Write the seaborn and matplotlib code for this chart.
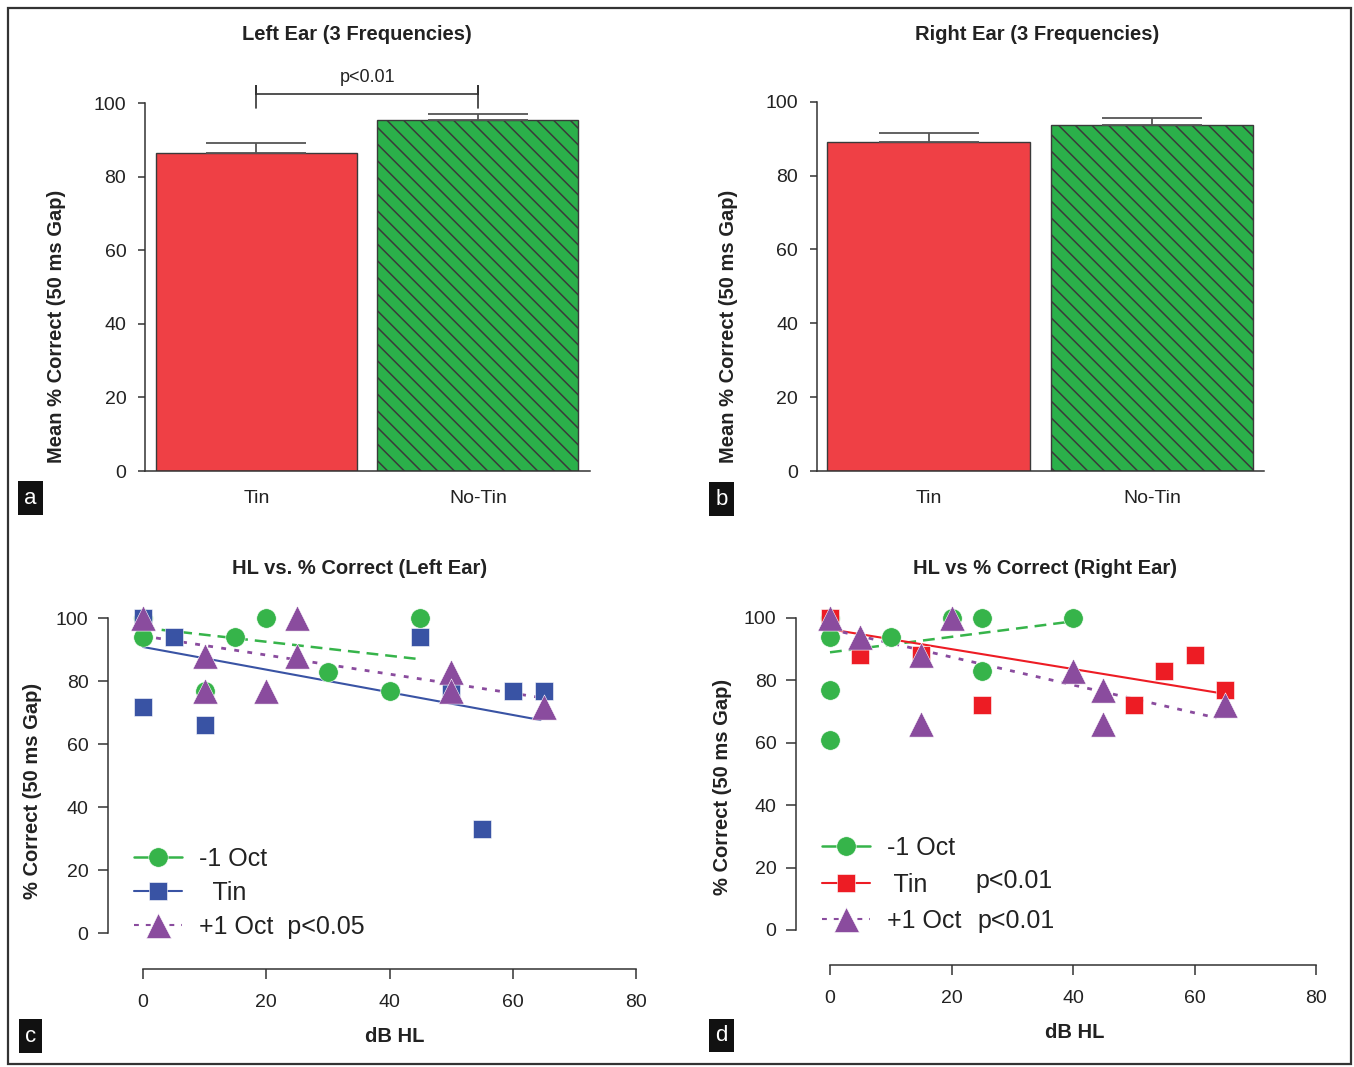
import matplotlib
matplotlib.use("Agg")
import matplotlib.pyplot as plt
import seaborn as sns
import pandas as pd
from matplotlib.lines import Line2D
from matplotlib.patches import Rectangle

sns.set_style("ticks")
plt.rcParams['font.family'] = ['Liberation Sans', 'DejaVu Sans']
plt.rcParams['hatch.linewidth'] = 1.1
plt.rcParams['lines.scale_dashes'] = False

# ---------------- data ----------------
bar_cats = ["Tin", "No-Tin"]
left_means = [86.6, 95.5]
left_err = [2.7, 1.6]
right_means = [89.2, 93.8]
right_err = [2.2, 1.8]
left_sig_text = "p<0.01"
left_sig_y = 102.6

c_green_x = [0, 0, 10, 15, 20, 30, 40, 45]
c_green_y = [100, 94, 77, 94, 100, 83, 77, 100]
c_blue_x = [0, 0, 5, 10, 45, 50, 55, 60, 65]
c_blue_y = [100, 72, 94, 66, 94, 77, 33, 77, 77]
c_purple_x = [0, 10, 10, 20, 25, 25, 50, 50, 65]
c_purple_y = [100, 88, 77, 77, 100, 88, 83, 77, 72]
c_fit_green = ([0, 45], [97, 87])
c_fit_blue = ([0, 64.5], [90.9, 67.7])
c_fit_purple = ([0, 64], [94.4, 75])

d_green_x = [0, 0, 0, 0, 10, 20, 25, 25, 40]
d_green_y = [100, 94, 77, 61, 94, 100, 100, 83, 100]
d_red_x = [0, 5, 15, 25, 50, 55, 60, 65]
d_red_y = [100, 88, 88, 72, 72, 83, 88, 77]
d_purple_x = [0, 5, 15, 15, 20, 40, 45, 45, 65]
d_purple_y = [100, 94, 88, 66, 100, 83, 77, 66, 72]
d_fit_green = ([0, 39.5], [89, 98.8])
d_fit_red = ([0, 64], [96.4, 76])
d_fit_purple = ([0, 63.6], [96.4, 68])

yticks = [0, 20, 40, 60, 80, 100]
xticks = [0, 20, 40, 60, 80]

# ---------------- styling ----------------
RED_BAR = "#EF4045"
GREEN_BAR = "#2BB04A"
GREEN = "#36B44A"
BLUE = "#3953A4"
PURPLE = "#8A4C9E"
RED = "#ED1C24"
SPINE = "#333333"
W, H = 1354, 1067

fig = plt.figure(figsize=(W / 100, H / 100), dpi=100)


def fx(px):
    return px / W


def fy(py):
    return 1 - py / H


def add_axes(l, r, t, b):
    return fig.add_axes([fx(l), fy(b), fx(r) - fx(l), fy(t) - fy(b)])


def style_spines(ax):
    for s in ['top', 'right']:
        ax.spines[s].set_visible(False)
    for s in ['left', 'bottom']:
        ax.spines[s].set_color(SPINE)
        ax.spines[s].set_linewidth(1.1)


def bar_panel(ax, means, errs, xl, xr, width):
    df = pd.DataFrame({"cat": bar_cats, "val": means})
    sns.barplot(data=df, x="cat", y="val", hue="cat", order=bar_cats,
                palette=[RED_BAR, GREEN_BAR], width=width, errorbar=None,
                saturation=1, edgecolor="#3a3a3a", linewidth=1.0,
                legend=False, ax=ax)
    ax.patches[1].set_hatch('\\\\')
    ax.errorbar([0, 1], means, yerr=[[0, 0], errs], fmt='none',
                ecolor="#555555", elinewidth=1.3, capsize=36, capthick=1.3,
                zorder=1)
    ax.set_xlim(xl, xr)
    ax.set_ylim(0, 100)
    ax.set_yticks(yticks)
    ax.set_xlabel("")
    ax.set_ylabel("")
    style_spines(ax)
    ax.tick_params(axis='y', left=True, length=5, width=1.1, color=SPINE,
                   pad=8.5, labelsize=14, labelcolor="#222222")
    ax.tick_params(axis='x', bottom=True, length=0, pad=14, labelsize=14,
                   labelcolor="#222222")
    ax.set_facecolor("none")


# panel a
axa = add_axes(145, 590, 103.3, 471)
bar_panel(axa, left_means, left_err, -0.503, 1.506, 0.907)
axa.plot([0, 0, 0, 1, 1, 1],
         [left_sig_y - 4, left_sig_y + 2, left_sig_y, left_sig_y,
          left_sig_y + 2, left_sig_y - 4],
         color="#333333", lw=1.2, clip_on=False)
axa.text(0.5, left_sig_y + 4.4, left_sig_text, ha='center', va='center',
         fontsize=13, color="#222222", clip_on=False)

# panel b
axb = add_axes(816.7, 1264, 101.7, 471)
bar_panel(axb, right_means, right_err, -0.5, 1.5, 0.906)


def scatter_panel(ax, series, fits, l, r, t, b, x0px, x80px, y100px, y0px):
    pxu = (x80px - x0px) / 80.0
    pyu = (y0px - y100px) / 100.0
    ax.set_xlim((l - x0px) / pxu, (r - x0px) / pxu)
    ax.set_ylim((y0px - b) / pyu, (y0px - t) / pyu)
    for (fxs, fys), color, ls, lw in fits:
        ax.plot(fxs, fys, color=color, linestyle=ls, lw=lw, zorder=2)
    for xs, ys, color, marker, s in series:
        sns.scatterplot(x=xs, y=ys, color=color, marker=marker, s=s,
                        edgecolor="white", linewidth=0.4, ax=ax, zorder=3,
                        clip_on=False, legend=False)
    style_spines(ax)
    ax.spines['left'].set_bounds(0, 100)
    ax.spines['bottom'].set_bounds(0, 80)
    ax.set_xticks(xticks)
    ax.set_yticks(yticks)
    ax.tick_params(axis='y', left=True, length=7, width=1.1, color=SPINE,
                   pad=7, labelsize=14, labelcolor="#222222")
    ax.tick_params(axis='x', bottom=True, length=7, width=1.1, color=SPINE,
                   pad=11, labelsize=14, labelcolor="#222222")
    ax.set_xlabel("")
    ax.set_ylabel("")
    ax.set_facecolor("none")


GREEN_DASH = (0, (8.5, 5))
PURPLE_DOT = (0, (3.5, 6))

axc = add_axes(108, 640, 612, 969)
scatter_panel(axc,
              [(c_green_x, c_green_y, GREEN, 'o', 196),
               (c_blue_x, c_blue_y, BLUE, 's', 175),
               (c_purple_x, c_purple_y, PURPLE, '^', 330)],
              [(c_fit_green, GREEN, GREEN_DASH, 1.8),
               (c_fit_blue, BLUE, '-', 1.5),
               (c_fit_purple, PURPLE, PURPLE_DOT, 2.0)],
              108, 640, 612, 969, 143, 636, 618.3, 933.3)

axd = add_axes(796, 1320, 612, 965)
scatter_panel(axd,
              [(d_green_x, d_green_y, GREEN, 'o', 196),
               (d_red_x, d_red_y, RED, 's', 175),
               (d_purple_x, d_purple_y, PURPLE, '^', 330)],
              [(d_fit_green, GREEN, GREEN_DASH, 1.8),
               (d_fit_red, RED, '-', 1.5),
               (d_fit_purple, PURPLE, PURPLE_DOT, 2.0)],
              796, 1320, 612, 965, 830, 1316, 618, 930)


def make_handles(c2):
    return [Line2D([0], [0], color=GREEN, lw=1.8, marker='o', ms=14,
                   markeredgecolor='white', markeredgewidth=0.4),
            Line2D([0], [0], color=c2, lw=1.5, marker='s', ms=13,
                   markeredgecolor='white', markeredgewidth=0.4),
            Line2D([0], [0], color=PURPLE, lw=1.5, ls=(0, (3.5, 5)),
                   marker='^', ms=18, markeredgecolor='white',
                   markeredgewidth=0.4)]


legc = axc.legend(make_handles(BLUE), ["-1 Oct", "  Tin", "+1 Oct  p<0.05"],
                  loc='upper left', bbox_to_anchor=(fx(134), fy(847)),
                  bbox_transform=fig.transFigure, frameon=False,
                  fontsize=18, handlelength=1.9, handletextpad=0.7,
                  labelspacing=0.4, borderpad=0, borderaxespad=0)
legd = axd.legend(make_handles(RED), ["-1 Oct", " Tin", "+1 Oct"],
                  loc='upper left', bbox_to_anchor=(fx(822), fy(836)),
                  bbox_transform=fig.transFigure, frameon=False,
                  fontsize=18, handlelength=1.9, handletextpad=0.7,
                  labelspacing=0.5, borderpad=0, borderaxespad=0)
for lg in (legc, legd):
    for t in lg.get_texts():
        t.set_color("#222222")
fig.text(fx(975), fy(881), "p<0.01", fontsize=18, color="#222222",
         ha='left', va='center')
fig.text(fx(977), fy(921), "p<0.01", fontsize=18, color="#222222",
         ha='left', va='center')

# titles and axis labels
TKW = dict(fontsize=14.5, fontweight='bold', color="#222222",
           ha='center', va='center')
fig.text(fx(357), fy(35), "Left Ear (3 Frequencies)", **TKW)
fig.text(fx(1037), fy(35), "Right Ear (3 Frequencies)", **TKW)
fig.text(fx(360), fy(569), "HL vs. % Correct (Left Ear)", **TKW)
fig.text(fx(1045), fy(569), "HL vs % Correct (Right Ear)", **TKW)
fig.text(fx(57), fy(326), "Mean % Correct (50 ms Gap)", rotation=90, **TKW)
fig.text(fx(728), fy(326), "Mean % Correct (50 ms Gap)", rotation=90, **TKW)
fig.text(fx(33), fy(791), "% Correct (50 ms Gap)", rotation=90, **TKW)
fig.text(fx(722), fy(787), "% Correct (50 ms Gap)", rotation=90, **TKW)
fig.text(fx(395), fy(1037), "dB HL", **TKW)
fig.text(fx(1075), fy(1032), "dB HL", **TKW)

# panel letters
for letter, x, y in [("a", 30.5, 498), ("b", 721.5, 499),
                     ("c", 30.5, 1036), ("d", 721.5, 1035.5)]:
    fig.text(fx(x), fy(y), letter, fontsize=16, color='white', ha='center',
             va='center',
             bbox=dict(boxstyle='square,pad=0.28', facecolor='#111111',
                       edgecolor='none'))

# outer frame
fig.patches.append(Rectangle((fx(8), fy(1064)), fx(1351) - fx(8),
                             fy(7.5) - fy(1064), transform=fig.transFigure,
                             fill=False, edgecolor="#333333", lw=1.6))

fig.savefig("out.png", dpi=100)
